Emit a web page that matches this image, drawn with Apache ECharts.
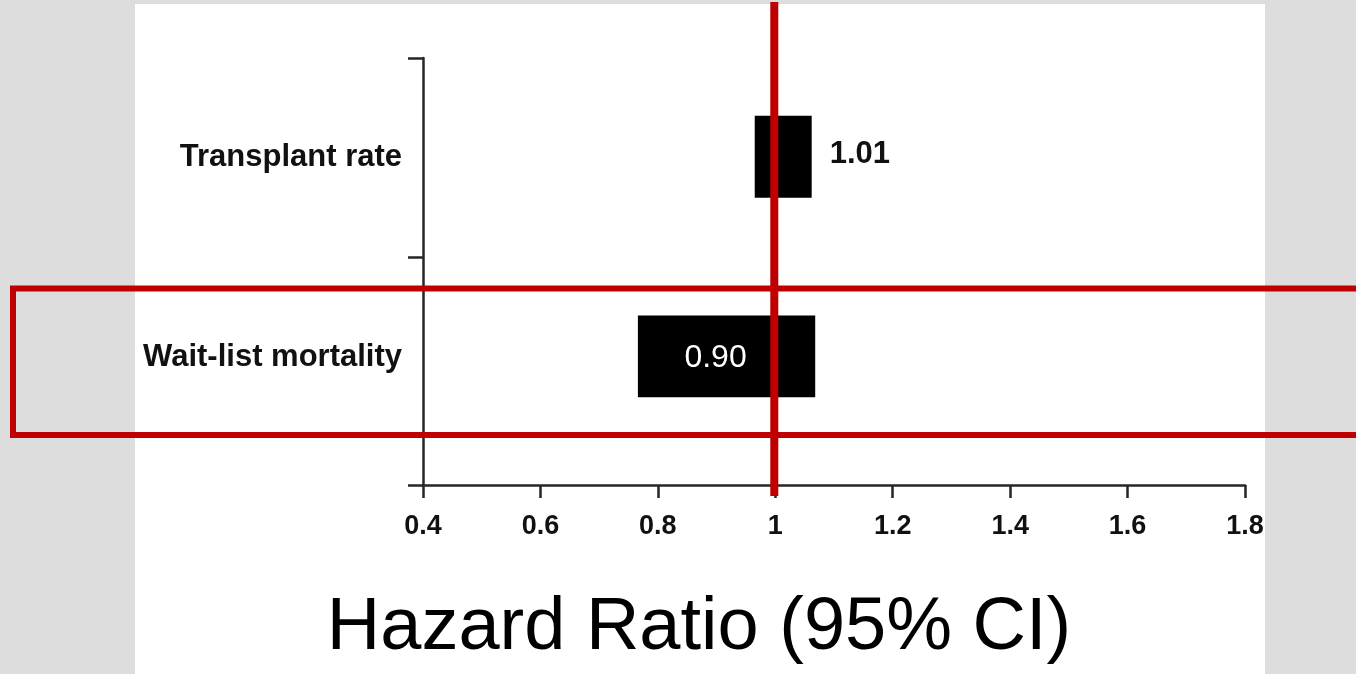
<!DOCTYPE html>
<html>
<head>
<meta charset="utf-8">
<script src="https://cdn.jsdelivr.net/npm/echarts@6/dist/echarts.min.js"></script>
<style>
html,body{margin:0;padding:0;background:#dddddd;}
#main{width:1356px;height:674px;}
</style>
</head>
<body>
<div id="main"></div>
<script>
// ---- data ----
const categories = ['Transplant rate', 'Wait-list mortality'];
const hazardRatio = [1.01, 0.90];
const ciLower = [0.965, 0.766];
const ciUpper = [1.062, 1.068];
const xMin = 0.4, xMax = 1.8, xStep = 0.2;
const referenceValue = 1;
const axisTitle = 'Hazard Ratio (95% CI)';

// ---- build ----
const FONT = '"Liberation Sans", Arial, Helvetica, sans-serif';
const RED = '#c00000';
const nRows = categories.length;
const rowPos = categories.map((c, i) => nRows - 1 - i + 0.5);
const yMin = -0.14, yMax = nRows;
const seriesData = categories.map((c, i) => [ciLower[i], ciUpper[i], hazardRatio[i], rowPos[i], i]);

const chart = echarts.init(document.getElementById('main'), null, {renderer: 'canvas'});

const option = {
  backgroundColor: '#dddddd',
  animation: false,
  grid: {left: 423, right: 111, top: 58, bottom: 189, containLabel: false},
  xAxis: {
    type: 'value', min: xMin, max: xMax, interval: xStep,
    splitLine: {show: false},
    axisLine: {show: true, onZero: false, lineStyle: {color: '#262626', width: 2.5}},
    axisTick: {show: true, length: 13, lineStyle: {color: '#262626', width: 2.5}},
    axisLabel: {color: '#111', fontFamily: FONT, fontWeight: 'bold', fontSize: 27, margin: 28,
      formatter: v => String(+v.toFixed(1))}
  },
  yAxis: {
    type: 'value', min: yMin, max: yMax,
    splitLine: {show: false},
    axisLine: {show: true, onZero: false, lineStyle: {color: '#262626', width: 2.5}},
    axisTick: {show: true, length: 15, lineStyle: {color: '#262626', width: 2.5},
      customValues: [yMin, 1, 2]},
    axisLabel: {color: '#111', fontFamily: FONT, fontWeight: 'bold', fontSize: 31, margin: 21,
      customValues: rowPos,
      formatter: v => { const i = rowPos.findIndex(p => Math.abs(p - v) < 1e-6); return i >= 0 ? categories[i] : ''; }}
  },
  series: [{
    type: 'custom',
    z: 5,
    data: seriesData,
    renderItem: function (params, api) {
      const lo = api.value(0), hi = api.value(1), hr = api.value(2), yp = api.value(3);
      const p0 = api.coord([lo, yp]);
      const p1 = api.coord([hi, yp]);
      const pc = api.coord([hr, yp]);
      const h = api.size([0, 0.41])[1];
      const w = p1[0] - p0[0];
      const children = [{
        type: 'rect',
        shape: {x: p0[0], y: p0[1] - h / 2 - 1, width: w, height: h},
        style: {fill: '#000'}
      }];
      const txt = hr.toFixed(2);
      if (w > 100) {
        children.push({type: 'text', style: {text: txt, x: pc[0] - 1, y: pc[1] + 1, fill: '#fff',
          font: '32px ' + FONT, align: 'center', verticalAlign: 'middle'}});
      } else {
        children.push({type: 'text', style: {text: txt, x: p1[0] + 18, y: pc[1] - 3, fill: '#111',
          font: 'bold 31px ' + FONT, align: 'left', verticalAlign: 'middle'}});
      }
      return {type: 'group', children: children};
    }
  }],
  graphic: [
    {type: 'rect', id: 'panel', z: -100, silent: true,
      shape: {x: 135, y: 4, width: 1130, height: 670}, style: {fill: '#ffffff'}},
    {type: 'rect', id: 'rightStrip', z: 100, silent: true,
      shape: {x: 1265, y: 0, width: 91, height: 674}, style: {fill: '#dddddd'}},
    {type: 'text', id: 'title', z: 50, x: 699, y: 629,
      style: {text: axisTitle, font: '74px ' + FONT, fill: '#000', align: 'center', verticalAlign: 'middle'}},
    {type: 'rect', id: 'highlight', z: 120, silent: true,
      shape: {x: 13, y: 288.5, width: 1400, height: 146.5},
      style: {fill: 'none', stroke: RED, lineWidth: 6}}
  ]
};
chart.setOption(option);

// reference line at HR = 1, positioned through the x scale
const xRef = chart.convertToPixel({xAxisIndex: 0}, referenceValue);
chart.setOption({
  graphic: [{type: 'line', id: 'refLine', z: 130, silent: true,
    shape: {x1: xRef - 1, y1: 2, x2: xRef - 1, y2: 496},
    style: {stroke: RED, lineWidth: 8}}]
});
</script>
</body>
</html>
